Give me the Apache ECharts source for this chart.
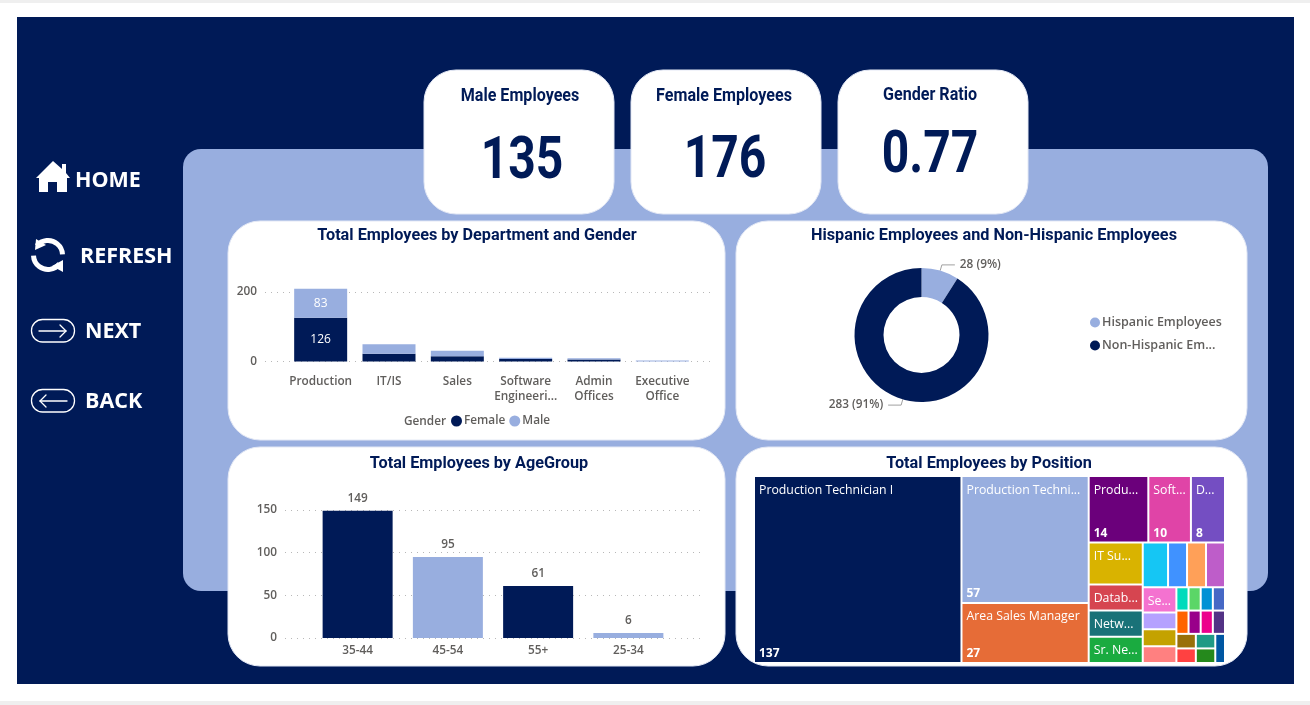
<!DOCTYPE html>
<html><head><meta charset="utf-8">
<style>html,body{margin:0;padding:0;background:#fff}#c{width:1310px;height:705px}</style>
<script src="https://cdn.jsdelivr.net/npm/echarts@6/dist/echarts.min.js"></script>
</head><body><div id="c"></div>
<script>
const NAVY='#001A57', LIGHT='#98AEDF', GREY='#605E5C';
const HEAD='Roboto', BODY='"Open Sans"';

const kpiTitles=['Male Employees','Female Employees','Gender Ratio'];
const kpiValues=['135','176','0.77'];
const navLabels=['HOME','REFRESH','NEXT','BACK'];
const chartTitles=['Total Employees by Department and Gender','Hispanic Employees and Non-Hispanic Employees','Total Employees by AgeGroup','Total Employees by Position'];

const departments=['Production','IT/IS','Sales','Software\nEngineeri...','Admin\nOffices','Executive\nOffice'];
const femaleCounts=[126,22,15,7,6,0];
const maleCounts=[83,28,16,4,3,1];

const ageGroups=['35-44','45-54','55+','25-34'];
const ageCounts=[149,95,61,6];
const ageColors=[NAVY,LIGHT,NAVY,LIGHT];

const ethnicityNames=['Hispanic Employees','Non-Hispanic Employees'];
const ethnicityLegend=['Hispanic Employees','Non-Hispanic Em...'];
const ethnicityCounts=[28,283];

const positionLabels=['Production Technician I','Production Techni...','Area Sales Manager','Produ...','Soft...','D...','IT Su...','Datab...','Netw...','Sr. Ne...','','','','','Se...','','','','','','','','','','','','','','','',''];
const positionValues=[137,57,27,14,10,8,8,5,5,5,4,3,3,3,3,2,2,2,1,1,1,1,1,1,1,1,1,1,1,1,1];
const positionShown=['137','57','27','14','10','8'];
const positionColors=['#001A57','#98AEDF','#E66C37','#6B007B','#E044A7','#744EC2','#D9B300','#D64550','#197278','#1AAB40','#15C6F4','#4092FF','#FFA058','#BE5DC9','#F472D0','#B5A1FF','#C4A200','#FF8080','#00DBBC','#5BD667','#0091D5','#4668C5','#FF6300','#99008A','#EC008C','#533285','#99700A','#FF4141','#1F9A85','#25891C','#0057A2'];
// Grouping of the cells above (by index): gives the treemap its columns and rows.
// 'x' is an empty cell of negligible size that only ends a row of the squarified layout.
const positionGroups=[0,[1,2],[[3,4,5],
  [[6,[7,[8,9]]],'x',
   [[10,[11,[12,13]]],
    [[14,[15,[16,'x',17]]],'x',
     [[18,[19,[20,'x',21]]],
      [[22,[23,[24,'x',25]]],'x',[[[26,27],[28,29]],30]]]]]]]];

function tree(spec,overlay){
  return spec.map(s=>{
    if(Array.isArray(s)) return {name:'',children:tree(s,overlay)};
    if(s==='x') return {name:'',value:0.001,itemStyle:{color:'transparent',borderWidth:0}};
    return {
      name:overlay?(positionShown[s]||''):positionLabels[s],
      value:positionValues[s],
      itemStyle:overlay?{color:'transparent',borderWidth:0}:{color:positionColors[s],borderColor:'#fff',borderWidth:1}
    };
  });
}
function treemapSeries(overlay){
  return {
    type:'treemap',left:754,top:476,width:471,height:187,sort:false,squareRatio:1.25,visibleMin:0,
    roam:false,nodeClick:false,silent:overlay,breadcrumb:{show:false},
    itemStyle:{gapWidth:0,borderWidth:0},upperLabel:{show:false},
    label:{show:true,position:overlay?'insideBottomLeft':'insideTopLeft',distance:0,padding:overlay?[0,0,3,5]:[7,0,0,4],overflow:'none',
      color:'#fff',fontFamily:BODY,fontSize:overlay?12:12.3,fontWeight:overlay?700:400,formatter:'{b}'},
    data:tree(positionGroups,overlay)
  };
}

function card(x,y,w,h,r,fill,stroke){
  return {type:'rect',z:-5,shape:{x,y,width:w,height:h,r},style:{fill,stroke:stroke||null,lineWidth:stroke?1:0}};
}
function text(t,x,y,font,fill,align,sx){
  return {type:'text',z:-1,x,y,scaleX:sx||1,style:{text:t,font,fill,textAlign:align||'center',textVerticalAlign:'middle'}};
}
const line=(pts,w)=>({type:'polyline',z:-1,shape:{points:pts},style:{stroke:'#fff',lineWidth:w||1.3,fill:null,lineCap:'round',lineJoin:'round'}});
const navFont='700 21.5px '+BODY, kpiHead='700 17.5px '+HEAD, kpiBig='700 60px '+HEAD, chartHead='700 17px '+HEAD;
const EDGE='#E3E8F5';
const graphics=[
  card(0,0,1310,3,0,'#EFEFEF'),card(0,701,1310,4,0,'#EFEFEF'),
  card(17,17,1277,667,0,NAVY),
  card(183,149,1085,442,18,LIGHT),
  card(424,70,190,144,32,'#fff',EDGE),card(631,70,190,144,32,'#fff',EDGE),card(838,70,190,144,32,'#fff',EDGE),
  card(228,221,497,219,32,'#fff',EDGE),card(736,221,511,219,32,'#fff',EDGE),
  card(228,447,497,219,32,'#fff',EDGE),card(736,447,511,219,32,'#fff',EDGE),
  text(kpiTitles[0],520,97,kpiHead,NAVY,'center',.92),text(kpiTitles[1],724,97,kpiHead,NAVY,'center',.92),text(kpiTitles[2],930,96,kpiHead,NAVY,'center',.92),
  text(kpiValues[0],522,163,kpiBig,NAVY,'center',.8),text(kpiValues[1],725,162,kpiBig,NAVY,'center',.8),text(kpiValues[2],930,157,kpiBig,NAVY,'center',.8),
  text(chartTitles[0],477,236,chartHead,NAVY,'center',.955),text(chartTitles[1],994,236,chartHead,NAVY,'center',.955),
  text(chartTitles[2],479,464,chartHead,NAVY,'center',.955),text(chartTitles[3],989,464,chartHead,NAVY,'center',.955),
  // navigation
  {type:'polygon',z:-1,shape:{points:[[53,161],[62,169],[62,164],[66,164],[66,173],[70,178],[67,178],[67,192],[57,192],[57,182],[48,182],[48,192],[39,192],[39,178],[36,178]]},style:{fill:'#fff'}},
  text(navLabels[0],75,181,navFont,'#fff','left'),
  {type:'arc',z:-1,shape:{cx:48,cy:255,r:14.5,startAngle:-2.45,endAngle:-0.05},style:{stroke:'#fff',lineWidth:5,fill:null}},
  {type:'arc',z:-1,shape:{cx:48,cy:255,r:14.5,startAngle:0.65,endAngle:3.1},style:{stroke:'#fff',lineWidth:5,fill:null}},
  {type:'polygon',z:-1,shape:{points:[[36,239],[46,245],[35,250]]},style:{fill:'#fff'}},
  {type:'polygon',z:-1,shape:{points:[[63,272],[52,266],[63,260]]},style:{fill:'#fff'}},
  text(navLabels[1],80,257,navFont,'#fff','left'),
  {type:'rect',z:-1,shape:{x:31.5,y:319.5,width:43,height:22.5,r:11},style:{stroke:'#fff',lineWidth:1.3,fill:null}},
  line([[39,331],[66,331]]),line([[60,325],[66,331],[60,337]]),
  text(navLabels[2],85,332,navFont,'#fff','left'),
  {type:'rect',z:-1,shape:{x:31.5,y:389.5,width:43,height:22.5,r:11},style:{stroke:'#fff',lineWidth:1.3,fill:null}},
  line([[40,401],[67,401]]),line([[46,395],[40,401],[46,407]]),
  text(navLabels[3],85,402,navFont,'#fff','left'),
  text('Gender',404,422,'600 11.8px '+BODY,GREY,'left')
];
const dotted={show:true,lineStyle:{type:[1,5],color:'#B8B8B8',width:1}};
const axisText={color:GREY,fontFamily:BODY,fontSize:11.8,fontWeight:600};
const hidden={show:false};

const option={
  animation:false,backgroundColor:'#fff',graphic:graphics,
  grid:[
    {left:265,width:450,top:292,height:69.5},   // department rules
    {left:286.5,width:410,top:292,height:69.5}, // department bars
    {left:285,width:415,top:510,height:128},    // age rules
    {left:312.5,width:361,top:510,height:128}   // age bars
  ],
  xAxis:[
    {gridIndex:0,type:'value',show:false},
    {gridIndex:1,type:'category',data:departments,axisLine:hidden,axisTick:hidden,axisLabel:{...axisText,margin:13,lineHeight:15,interval:0}},
    {gridIndex:2,type:'value',show:false},
    {gridIndex:3,type:'category',data:ageGroups,axisLine:hidden,axisTick:hidden,axisLabel:{...axisText,margin:7}}
  ],
  yAxis:[
    {gridIndex:0,type:'value',min:0,max:200,interval:200,splitLine:dotted,axisLine:hidden,axisTick:hidden,axisLabel:{...axisText,margin:8,padding:[3,0,0,0]}},
    {gridIndex:1,type:'value',min:0,max:200,show:false,splitLine:hidden},
    {gridIndex:2,type:'value',min:0,max:150,interval:50,splitLine:dotted,axisLine:hidden,axisTick:hidden,axisLabel:{...axisText,margin:8,padding:[3,0,0,0]}},
    {gridIndex:3,type:'value',min:0,max:150,show:false,splitLine:hidden}
  ],
  legend:[
    {data:['Female','Male'],left:451,top:415,itemGap:4,itemWidth:11,itemHeight:11,icon:'circle',padding:0,selectedMode:false,
     textStyle:{...axisText,padding:[0,0,0,-3]}},
    {data:ethnicityNames,orient:'vertical',left:1090,top:316,itemGap:10,itemWidth:10,itemHeight:10,icon:'circle',padding:0,selectedMode:false,
     formatter:n=>ethnicityLegend[ethnicityNames.indexOf(n)],
     textStyle:{...axisText,fontSize:12.5,padding:[0,0,0,-3]}}
  ],
  series:[
    {name:'Female',type:'bar',xAxisIndex:1,yAxisIndex:1,stack:'g',data:femaleCounts,barWidth:53,clip:false,itemStyle:{color:NAVY},
     label:{show:true,position:'inside',color:'#fff',fontFamily:BODY,fontSize:12,formatter:p=>p.value>=50?p.value:''}},
    {name:'Male',type:'bar',xAxisIndex:1,yAxisIndex:1,stack:'g',data:maleCounts,barWidth:53,barMinHeight:1,clip:false,itemStyle:{color:LIGHT},
     label:{show:true,position:'inside',color:'#fff',fontFamily:BODY,fontSize:12,formatter:p=>p.value>=50?p.value:''}},
    {type:'bar',xAxisIndex:3,yAxisIndex:3,barWidth:70,
     data:ageCounts.map((v,i)=>({value:v,itemStyle:{color:ageColors[i]}})),
     label:{show:true,position:'top',distance:6,...axisText}},
    {type:'pie',center:[921.5,335],radius:[38,67],startAngle:90,silent:true,
     data:ethnicityNames.map((n,i)=>({name:n,value:ethnicityCounts[i],itemStyle:{color:i?NAVY:LIGHT}})),
     label:{show:true,formatter:p=>p.value+' ('+Math.round(p.percent)+'%)',...axisText},
     labelLine:{show:true,length:6,length2:13,lineStyle:{color:'#A0A0A0',width:1}}},
    treemapSeries(false),treemapSeries(true)
  ]
};
echarts.init(document.getElementById('c'),null,{renderer:'canvas'}).setOption(option);
</script></body></html>
